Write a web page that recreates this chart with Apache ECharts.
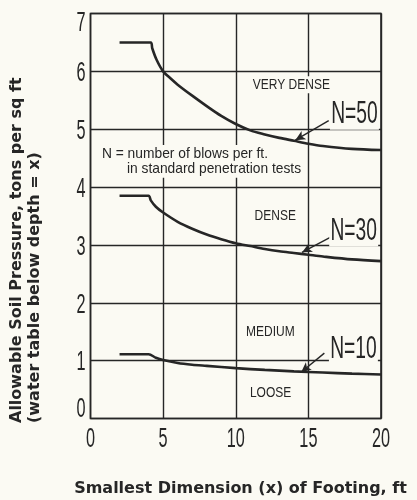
<!DOCTYPE html>
<html>
<head>
<meta charset="utf-8">
<title>Allowable soil pressure</title>
<script src="https://cdn.jsdelivr.net/npm/echarts@6/dist/echarts.min.js"></script>
<style>
  html, body { margin: 0; padding: 0; background: #fbfaf3; }
  #chart { width: 417px; height: 500px; }
</style>
</head>
<body>
<div id="chart"></div>
<script>
  // curves: [footing width ft, tons per sq ft]
  const curveN50 = [[2, 6.5], [4.15, 6.5], [4.25, 6.4], [4.55, 6.2], [5, 6.0], [5.5, 5.88], [6, 5.77], [7, 5.58],
    [8, 5.4], [9, 5.23], [10, 5.09], [11, 4.98], [12, 4.91], [13, 4.85], [14, 4.8], [15, 4.75], [16, 4.71],
    [18, 4.66], [20, 4.64]];
  const curveN30 = [[2, 3.85], [4, 3.85], [4.15, 3.77], [4.5, 3.66], [5, 3.56], [6, 3.4], [7, 3.28], [8, 3.18],
    [9, 3.1], [10, 3.03], [11, 2.98], [12, 2.93], [13, 2.89], [14, 2.86], [15, 2.83], [16, 2.8], [18, 2.75], [20, 2.72]];
  const curveN10 = [[2, 1.11], [4, 1.11], [4.5, 1.05], [5, 1.01], [6, 0.96], [7, 0.93], [8, 0.91], [10, 0.87],
    [12, 0.84], [14, 0.815], [16, 0.795], [18, 0.775], [20, 0.76]];

  const seriesNames = ["N=50", "N=30", "N=10"];
  const xTicks = [0, 5, 10, 15, 20];
  const yTicks = [0, 1, 2, 3, 4, 5, 6, 7];

  // leader arrows, tail -> head, in data units
  const arrowTails = [[16.4, 5.15], [16.5, 3.13], [16.1, 1.13]];
  const arrowHeads = [[14.1, 4.81], [14.56, 2.87], [14.5, 0.8]];
  // where the big N labels sit
  const labelSpots = [[18.17, 5.26], [18.12, 3.24], [18.1, 1.2]];

  const zoneNames = ["VERY DENSE", "DENSE", "MEDIUM", "LOOSE"];
  const zoneSpots = [[13.83, 5.77], [12.72, 3.51], [12.38, 1.5], [12.4, 0.44]];

  const noteLines = ["N = number of blows per ft.", "in standard penetration tests"];
  const noteSpots = [[0.66, 4.58], [2.38, 4.31]];

  const bg = "#fbfaf3";
  const ink = "#262626";
  const thin = "'Liberation Sans', Arial, sans-serif";
  const bold = "bold 16px 'DejaVu Sans', sans-serif";

  const chart = echarts.init(document.getElementById("chart"), null, { renderer: "canvas" });

  function makeSeries(name, data, i) {
    return {
      name: name,
      type: "line",
      data: data,
      smooth: 0.3,
      symbol: "none",
      lineStyle: { color: ink, width: 2.6 },
      animation: false,
      markLine: {
        silent: true,
        symbol: ["none", "arrow"],
        symbolSize: [7, 10],
        lineStyle: { color: ink, width: 1.4, type: "solid" },
        label: { show: false },
        data: [[{ coord: arrowTails[i] }, { coord: arrowHeads[i] }]]
      }
    };
  }

  chart.setOption({
    backgroundColor: bg,
    animation: false,
    grid: {
      left: 90.5,
      right: 36,
      top: 13.5,
      bottom: 81.5,
      show: true,
      borderColor: ink,
      borderWidth: 1.6,
      backgroundColor: "transparent"
    },
    xAxis: {
      type: "value",
      min: xTicks[0],
      max: xTicks[xTicks.length - 1],
      interval: 5,
      axisLine: { show: false },
      axisTick: { show: false },
      axisLabel: { show: false },
      splitLine: { show: true, lineStyle: { color: ink, width: 1.4 } }
    },
    yAxis: {
      type: "value",
      min: yTicks[0],
      max: yTicks[yTicks.length - 1],
      interval: 1,
      axisLine: { show: false },
      axisTick: { show: false },
      axisLabel: { show: false },
      splitLine: { show: true, lineStyle: { color: ink, width: 1.4 } }
    },
    series: [
      makeSeries(seriesNames[0], curveN50, 0),
      makeSeries(seriesNames[1], curveN30, 1),
      makeSeries(seriesNames[2], curveN10, 2)
    ]
  });

  // the plate uses tall condensed lettering, so texts are squeezed with scaleX
  const px = (p) => chart.convertToPixel({ gridIndex: 0 }, p);
  const graphics = [];

  function squeezed(str, p, size, sx, align, vAlign, pad) {
    return {
      type: "text",
      x: p[0], y: p[1],
      scaleX: sx,
      z: 50,
      style: {
        text: str,
        fill: ink,
        font: size + "px " + thin,
        textAlign: align,
        textVerticalAlign: vAlign,
        backgroundColor: pad ? bg : null,
        padding: pad || 0
      }
    };
  }

  // tick labels, placed through the axes' scales
  xTicks.forEach((t) => {
    const p = px([t, 0]);
    graphics.push(squeezed(String(t), [p[0], p[1] + 7], 28, 0.58, "center", "top"));
  });
  yTicks.forEach((t, i) => {
    const p = px([0, t]);
    // end labels are kept inside the frame, like on the plate
    if (i === yTicks.length - 1) {
      graphics.push(squeezed(String(t), [p[0] - 5, p[1] - 4], 28, 0.58, "right", "top"));
    } else if (i === 0) {
      graphics.push(squeezed(String(t), [p[0] - 5, p[1] + 5], 28, 0.58, "right", "bottom"));
    } else {
      graphics.push(squeezed(String(t), [p[0] - 5, p[1] + 2], 28, 0.58, "right", "middle"));
    }
  });

  seriesNames.forEach((name, i) => {
    graphics.push(squeezed(name, px(labelSpots[i]), 31, 0.62, "center", "middle", [0, 2]));
  });

  zoneNames.forEach((name, i) => {
    graphics.push(squeezed(name, px(zoneSpots[i]), 15, 0.8, "center", "middle", [1, 3]));
  });

  noteLines.forEach((line, i) => {
    graphics.push(squeezed(line, px(noteSpots[i]), 15, 0.92, "left", "middle", [1, 2]));
  });

  // axis titles
  graphics.push({
    type: "text",
    x: 17, y: 423,
    rotation: Math.PI / 2,
    style: { text: "Allowable Soil Pressure, tons per sq ft", fill: ink, font: bold, textAlign: "left", textVerticalAlign: "middle" }
  });
  graphics.push({
    type: "text",
    x: 35, y: 423,
    rotation: Math.PI / 2,
    style: { text: "(water table below depth = x)", fill: ink, font: bold, textAlign: "left", textVerticalAlign: "middle" }
  });
  graphics.push({
    type: "text",
    x: 240.5, y: 489,
    style: { text: "Smallest Dimension (x) of Footing, ft", fill: ink, font: bold, textAlign: "center", textVerticalAlign: "middle" }
  });

  chart.setOption({ graphic: graphics });
</script>
</body>
</html>
